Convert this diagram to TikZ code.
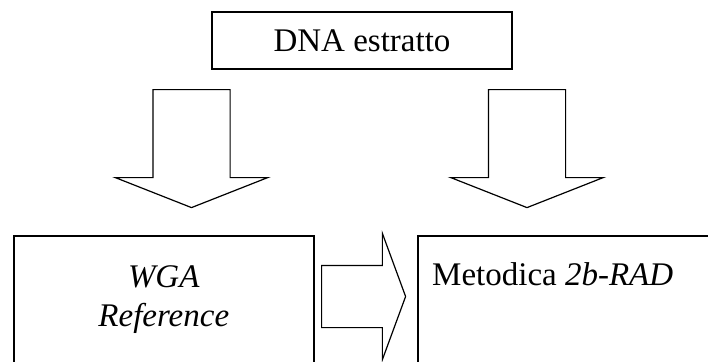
\documentclass[tikz,border=0pt]{standalone}
\usepackage{fontspec}
\setmainfont{Liberation Serif}
\usetikzlibrary{shapes.arrows, positioning}

\begin{document}
\begin{tikzpicture}[
  x=1pt, y=-1pt,
  box/.style={draw, line width=1.6pt, minimum width=300pt, inner sep=0pt},
  lbl/.style={font=\fontsize{33}{39}\selectfont, align=center, inner sep=0pt},
  blk/.style={draw, single arrow, line width=1.2pt, fill=white}
]
  \clip (0,0) rectangle (708,361);

  \node[box, lbl, minimum height=57pt] (dna) at (362,40.5) {DNA estratto};

  \node[box, minimum height=160pt, anchor=north west] (wga) at (13,235) {};
  \node[box, minimum width=330pt, minimum height=160pt,
        anchor=north west] (rad) at (417,235) {};

  \node[lbl, anchor=north] (wgat) at ([yshift=-30pt]wga.north)
    {\textit{WGA}\\\textit{Reference}};
  \node[lbl, anchor=north west] (radt) at ([xshift=15pt,yshift=-27pt]rad.north west)
    {Metodica \textit{2b-RAD}};

  % block arrows
  \node[blk, shape border rotate=270, inner sep=38pt, minimum height=118pt,
        single arrow head extend=37.5pt, single arrow tip angle=137,
        anchor=tail] (dnawga) at (191.5,89) {};
  \node[blk, shape border rotate=270, inner sep=38pt, minimum height=118pt,
        single arrow head extend=37.5pt, single arrow tip angle=137,
        anchor=tail] (dnarad) at (527,89) {};
  \node[blk, inner sep=30.5pt, minimum height=84pt,
        single arrow head extend=32pt, single arrow tip angle=139.6,
        anchor=tail] (wgarad) at (321,296.5) {};
\end{tikzpicture}
\end{document}
